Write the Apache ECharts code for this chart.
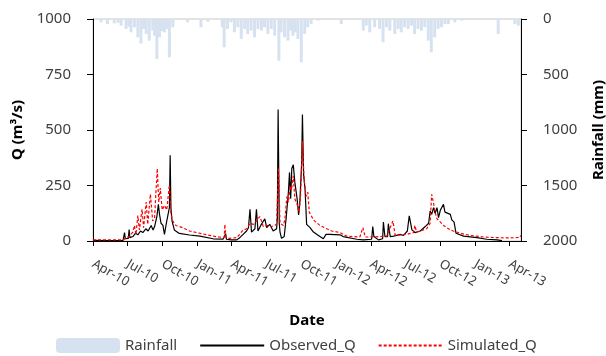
<!DOCTYPE html>
<html>
<head>
<meta charset="utf-8">
<script src="https://cdn.jsdelivr.net/npm/echarts@6/dist/echarts.min.js"></script>
<style>
  html, body { margin: 0; background: #fff; }
  #chart { width: 606px; height: 356px; }
</style>
</head>
<body>
<div id="chart"></div>
<script>
// daily categories, Apr 2010 - May 2013
const categories = []
for (let t = Date.UTC(2010, 3, 1); t <= Date.UTC(2013, 4, 1); t += 86400000) {
  categories.push(new Date(t).toISOString().slice(0, 10))
}
const monthNames = ['Jan', 'Feb', 'Mar', 'Apr', 'May', 'Jun', 'Jul', 'Aug', 'Sep', 'Oct', 'Nov', 'Dec']

const rainDates = [
  '2010-04-22', '2010-05-09', '2010-05-27', '2010-06-06', '2010-06-14', '2010-06-27', '2010-07-04', '2010-07-10',
  '2010-07-19', '2010-07-28', '2010-08-05', '2010-08-12', '2010-08-19', '2010-08-27', '2010-09-05', '2010-09-10',
  '2010-09-16', '2010-09-23', '2010-09-29', '2010-10-06', '2010-10-13', '2010-10-19', '2010-10-28', '2010-12-06',
  '2011-01-10', '2011-01-28', '2011-03-07', '2011-03-12', '2011-03-21', '2011-03-30', '2011-04-08', '2011-04-17',
  '2011-04-26', '2011-05-05', '2011-05-13', '2011-05-22', '2011-05-31', '2011-06-09', '2011-06-18', '2011-06-26',
  '2011-07-05', '2011-07-14', '2011-07-23', '2011-08-03', '2011-08-09', '2011-08-18', '2011-08-27', '2011-09-03',
  '2011-09-09', '2011-09-15', '2011-09-22', '2011-10-01', '2011-10-10', '2011-10-18', '2011-10-27', '2011-11-14',
  '2012-01-14', '2012-03-12', '2012-03-20', '2012-03-29', '2012-04-11', '2012-04-24', '2012-05-03', '2012-05-12',
  '2012-05-21', '2012-06-03', '2012-06-12', '2012-06-20', '2012-06-29', '2012-07-08', '2012-07-17', '2012-07-25',
  '2012-08-03', '2012-08-12', '2012-08-21', '2012-08-30', '2012-09-07', '2012-09-16', '2012-09-25', '2012-10-04',
  '2012-10-13', '2012-10-22', '2012-11-08', '2012-11-26', '2013-03-02', '2013-04-15', '2013-04-24'
]
const rainMm = [
  30, 45, 40, 35, 60, 90, 70, 120,
  75, 165, 220, 90, 135, 195, 105, 150,
  360, 165, 110, 120, 90, 345, 75, 30,
  75, 25, 75, 255, 90, 30, 120, 75,
  180, 90, 135, 105, 165, 90, 105, 75,
  135, 90, 150, 375, 120, 165, 195, 105,
  150, 120, 180, 390, 135, 75, 45, 15,
  45, 105, 60, 120, 75, 90, 210, 75,
  105, 135, 90, 120, 75, 90, 60, 135,
  90, 105, 75, 195, 300, 165, 90, 75,
  45, 45, 30, 15, 135, 45, 60
]

const obsDates = [
  '2010-04-01', '2010-05-15', '2010-06-19', '2010-06-21', '2010-06-23', '2010-06-25', '2010-07-03', '2010-07-05',
  '2010-07-07', '2010-07-15', '2010-07-22', '2010-07-28', '2010-08-04', '2010-08-10', '2010-08-18', '2010-08-24',
  '2010-09-01', '2010-09-06', '2010-09-10', '2010-09-16', '2010-09-20', '2010-09-23', '2010-09-27', '2010-10-02',
  '2010-10-06', '2010-10-12', '2010-10-17', '2010-10-19', '2010-10-21', '2010-10-23', '2010-10-26', '2010-11-01',
  '2010-11-14', '2010-12-11', '2011-01-07', '2011-02-11', '2011-03-09', '2011-03-14', '2011-03-16', '2011-03-18',
  '2011-03-31', '2011-04-14', '2011-04-22', '2011-05-01', '2011-05-10', '2011-05-15', '2011-05-19', '2011-05-23',
  '2011-06-01', '2011-06-05', '2011-06-09', '2011-06-18', '2011-06-27', '2011-07-02', '2011-07-10', '2011-07-19',
  '2011-07-28', '2011-07-30', '2011-08-01', '2011-08-04', '2011-08-06', '2011-08-10', '2011-08-17', '2011-08-22',
  '2011-08-28', '2011-08-31', '2011-09-03', '2011-09-06', '2011-09-10', '2011-09-14', '2011-09-20', '2011-09-24',
  '2011-09-27', '2011-10-02', '2011-10-04', '2011-10-07', '2011-10-11', '2011-10-15', '2011-10-24', '2011-11-02',
  '2011-11-15', '2011-11-28', '2011-12-05', '2011-12-15', '2012-01-11', '2012-01-19', '2012-02-24', '2012-03-12',
  '2012-04-03', '2012-04-06', '2012-04-09', '2012-04-21', '2012-05-02', '2012-05-04', '2012-05-08', '2012-05-15',
  '2012-05-17', '2012-05-22', '2012-05-31', '2012-06-17', '2012-06-26', '2012-07-06', '2012-07-11', '2012-07-18',
  '2012-07-26', '2012-08-09', '2012-08-22', '2012-08-31', '2012-09-04', '2012-09-08', '2012-09-13', '2012-09-17',
  '2012-09-22', '2012-09-26', '2012-10-01', '2012-10-09', '2012-10-13', '2012-10-27', '2012-10-31', '2012-11-06',
  '2012-11-11', '2012-12-01', '2013-01-05', '2013-01-31', '2013-02-27', '2013-03-12'
]
const obsQ = [
  3, 2, 3, 5, 38, 10, 12, 52,
  15, 20, 35, 28, 45, 38, 55, 45,
  70, 50, 65, 110, 165, 120, 80, 70,
  30, 90, 85, 150, 386, 150, 90, 50,
  34, 27, 22, 10, 8, 8, 33, 8,
  5, 5, 15, 30, 45, 60, 143, 40,
  55, 143, 45, 75, 100, 60, 75, 45,
  55, 100, 592, 80, 40, 12, 20, 100,
  219, 309, 190, 327, 343, 265, 190, 117,
  170, 353, 570, 300, 230, 75, 60, 40,
  25, 10, 30, 30, 28, 20, 8, 5,
  8, 65, 20, 5, 10, 85, 20, 20,
  78, 20, 22, 30, 25, 45, 113, 50,
  38, 45, 65, 80, 135, 120, 150, 125,
  150, 105, 140, 165, 130, 120, 95, 85,
  35, 22, 15, 8, 5, 2
]

const simDates = [
  '2010-04-01', '2010-06-19', '2010-07-06', '2010-07-15', '2010-07-19', '2010-07-23', '2010-07-28', '2010-08-01',
  '2010-08-08', '2010-08-12', '2010-08-19', '2010-08-23', '2010-08-30', '2010-09-05', '2010-09-10', '2010-09-17',
  '2010-09-21', '2010-09-25', '2010-09-30', '2010-10-06', '2010-10-12', '2010-10-19', '2010-10-23', '2010-10-28',
  '2010-11-05', '2010-11-23', '2010-12-11', '2011-01-07', '2011-02-11', '2011-03-12', '2011-03-14', '2011-03-16',
  '2011-03-26', '2011-04-14', '2011-04-22', '2011-05-01', '2011-05-10', '2011-05-19', '2011-05-28', '2011-06-05',
  '2011-06-14', '2011-06-23', '2011-07-02', '2011-07-15', '2011-07-28', '2011-08-02', '2011-08-06', '2011-08-15',
  '2011-08-19', '2011-08-24', '2011-08-28', '2011-09-02', '2011-09-05', '2011-09-10', '2011-09-14', '2011-09-20',
  '2011-09-25', '2011-09-29', '2011-10-04', '2011-10-08', '2011-10-13', '2011-10-18', '2011-10-22', '2011-11-02',
  '2011-11-19', '2011-12-07', '2011-12-20', '2012-01-11', '2012-01-28', '2012-03-03', '2012-03-11', '2012-03-17',
  '2012-04-03', '2012-05-13', '2012-05-29', '2012-06-04', '2012-07-05', '2012-07-22', '2012-07-26', '2012-07-30',
  '2012-08-26', '2012-09-04', '2012-09-08', '2012-09-13', '2012-09-17', '2012-09-22', '2012-10-01', '2012-10-09',
  '2012-10-27', '2012-11-04', '2012-11-22', '2012-12-18', '2013-01-22', '2013-02-27', '2013-04-03', '2013-04-28',
  '2013-04-30', '2013-05-01'
]
const simQ = [
  5, 5, 22, 40, 70, 30, 115, 50,
  143, 60, 175, 75, 211, 90, 105, 326,
  175, 238, 140, 160, 140, 253, 120, 90,
  70, 60, 45, 35, 22, 15, 75, 18,
  12, 15, 30, 50, 55, 80, 75, 90,
  110, 65, 70, 65, 75, 329, 80, 70,
  100, 200, 175, 248, 230, 293, 190, 165,
  130, 200, 450, 290, 200, 220, 130, 95,
  70, 55, 45, 38, 22, 18, 60, 18,
  18, 22, 90, 25, 30, 38, 70, 40,
  55, 80, 210, 170, 130, 100, 85, 70,
  50, 45, 35, 25, 18, 15, 14, 16,
  25, 18
]

const pairs = (dates, vals) => dates.map((d, i) => [d, vals[i]])
const isQuarterStart = (v) => v.slice(8) === '01' && ['01', '04', '07', '10'].includes(v.slice(5, 7))
const txt = '#404040'
const font = 'Noto Sans'
const noSymbol = { opacity: 0 }

const chart = echarts.init(document.getElementById('chart'), null, { renderer: 'canvas' })
chart.setOption({
  animation: false,
  textStyle: { fontFamily: font },
  grid: {
    left: 93,
    right: 85,
    top: 19,
    bottom: 115,
    outerBoundsMode: 'none',
    show: true,
    borderColor: '#c8c8c8',
    borderWidth: 1
  },
  legend: {
    left: 56,
    top: 338,
    padding: 0,
    itemWidth: 64,
    itemHeight: 15,
    itemGap: 22,
    textStyle: { fontFamily: font, fontSize: 15, color: txt },
    data: [
      { name: 'Rainfall' },
      { name: 'Observed_Q', itemStyle: noSymbol },
      { name: 'Simulated_Q', itemStyle: noSymbol }
    ]
  },
  xAxis: {
    type: 'category',
    data: categories,
    boundaryGap: false,
    name: 'Date',
    nameLocation: 'middle',
    nameGap: 72,
    nameTextStyle: { fontFamily: font, fontSize: 15, fontWeight: 'bold', color: '#000' },
    axisLine: { lineStyle: { color: '#000', width: 1 } },
    axisTick: { interval: (i, v) => isQuarterStart(v), length: 5, lineStyle: { color: '#000' } },
    axisLabel: {
      interval: (i, v) => isQuarterStart(v),
      rotate: -30,
      margin: 22,
      fontSize: 13,
      color: txt,
      formatter: (v) => monthNames[+v.slice(5, 7) - 1] + '-' + v.slice(2, 4)
    },
    splitLine: { show: false }
  },
  yAxis: [
    {
      type: 'value',
      min: 0,
      max: 1000,
      interval: 250,
      name: 'Q (m³/s)',
      nameLocation: 'middle',
      nameRotate: 90,
      nameGap: 68,
      nameTextStyle: { fontFamily: font, fontSize: 15, fontWeight: 'bold', color: '#000' },
      axisLine: { show: true, lineStyle: { color: '#000', width: 1 } },
      axisTick: { show: true, length: 6, lineStyle: { color: '#000' } },
      axisLabel: { margin: 22, fontSize: 15, color: txt, formatter: (v) => String(v) },
      splitLine: { show: false }
    },
    {
      type: 'value',
      position: 'right',
      inverse: true,
      min: 0,
      max: 2000,
      interval: 500,
      name: 'Rainfall (mm)',
      nameLocation: 'middle',
      nameRotate: 90,
      nameGap: 70,
      nameTextStyle: { fontFamily: font, fontSize: 15, fontWeight: 'bold', color: '#000' },
      axisLine: { show: true, lineStyle: { color: '#000', width: 1 } },
      axisTick: { show: true, length: 6, lineStyle: { color: '#000' } },
      axisLabel: { margin: 22, fontSize: 15, color: txt, formatter: (v) => String(v) },
      splitLine: { show: false }
    }
  ],
  series: [
    {
      name: 'Rainfall',
      type: 'bar',
      yAxisIndex: 1,
      barWidth: 3,
      itemStyle: { color: '#d7e2f0' },
      data: pairs(rainDates, rainMm)
    },
    {
      name: 'Observed_Q',
      type: 'line',
      yAxisIndex: 0,
      symbol: 'none',
      lineStyle: { color: '#000', width: 1.2 },
      itemStyle: { color: '#000' },
      data: pairs(obsDates, obsQ)
    },
    {
      name: 'Simulated_Q',
      type: 'line',
      yAxisIndex: 0,
      symbol: 'none',
      lineStyle: { color: '#ff0000', width: 1.2, type: [3, 2] },
      itemStyle: { color: '#ff0000' },
      data: pairs(simDates, simQ)
    }
  ]
})
</script>
</body>
</html>
